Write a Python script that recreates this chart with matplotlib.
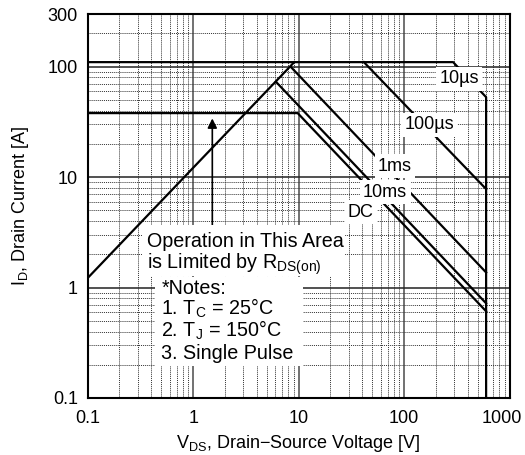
import numpy as np
import matplotlib.pyplot as plt
import matplotlib.transforms as mtransforms
from matplotlib.patches import Rectangle
from matplotlib.ticker import LogLocator, NullFormatter, FixedLocator, FixedFormatter

plt.rcParams['font.family'] = ['Liberation Sans', 'DejaVu Sans']
plt.rcParams['mathtext.fontset'] = 'custom'
plt.rcParams['mathtext.rm'] = 'Liberation Sans'
plt.rcParams['mathtext.it'] = 'Liberation Sans'
plt.rcParams['mathtext.default'] = 'regular'

# safe operating area curves (V, A)
rds_v = [0.1, 9.1]
rds_i = [1.22, 110]
us10_v = [0.1, 292, 600, 600]
us10_i = [110, 110, 53, 0.1]
us100_v = [41.6, 600]
us100_i = [110, 7.8]
ms1_v = [8.4, 600]
ms1_i = [100, 1.37]
ms10_v = [6.1, 600]
ms10_i = [73, 0.72]
dc_v = [0.1, 9.8, 600]
dc_i = [38, 38, 0.61]

curve_labels = ["10µs", "100µs", "1ms", "10ms", "DC"]
label_v = [333, 173, 82, 66, 39]
label_i = [78, 29.7, 12.6, 7.3, 4.8]

x_ticks = [0.1, 1, 10, 100, 1000]
x_ticklabels = ["0.1", "1", "10", "100", "1000"]
y_ticks = [0.1, 1, 10, 100, 300]
y_ticklabels = ["0.1", "1", "10", "100", "300"]

area_lines = ["Operation in This Area", "is Limited by $R_{DS(on)}$"]
note_lines = ["*Notes:", "1. $T_C$ = 25°C", "2. $T_J$ = 150°C", "3. Single Pulse"]

fig = plt.figure(figsize=(5.25, 4.55), dpi=100)
ax = fig.add_axes([0.167, 0.1253, 0.8035, 0.8439])
ax.set_xscale('log')
ax.set_yscale('log')
ax.set_xlim(0.1, 1000)
ax.set_ylim(0.1, 300)

ax.xaxis.set_major_locator(FixedLocator(x_ticks))
ax.xaxis.set_major_formatter(FixedFormatter(x_ticklabels))
ax.yaxis.set_major_locator(FixedLocator(y_ticks))
ax.yaxis.set_major_formatter(FixedFormatter(y_ticklabels))
ax.xaxis.set_minor_locator(LogLocator(base=10, subs=np.arange(2, 10)))
ax.yaxis.set_minor_locator(LogLocator(base=10, subs=np.arange(2, 10)))
ax.xaxis.set_minor_formatter(NullFormatter())
ax.yaxis.set_minor_formatter(NullFormatter())
ax.tick_params(which='both', length=0, labelsize=13)
ax.tick_params(axis='x', pad=9)
ax.tick_params(axis='y', pad=7)

ax.grid(which='minor', color='#333333', linestyle=(0, (1, 1)), linewidth=0.7)
ax.grid(which='major', axis='x', color='#666666', linestyle='-', linewidth=1.3)
ax.grid(which='major', axis='y', color='#222222', linestyle='-', linewidth=1.1)
for s in ax.spines.values():
    s.set_linewidth(1.5)

lw = 1.6
for v, i in [(rds_v, rds_i), (us10_v, us10_i), (us100_v, us100_i),
             (ms1_v, ms1_i), (ms10_v, ms10_i), (dc_v, dc_i)]:
    ax.plot(v, i, color='black', linewidth=lw, zorder=3)

for t, v, i in zip(curve_labels, label_v, label_i):
    ax.text(v, i, t, fontsize=13, ha='center', va='center', zorder=5,
            bbox=dict(facecolor='white', edgecolor='none', pad=2.5))

ax.annotate('', xy=(1.52, 34), xytext=(1.52, 3.4),
            arrowprops=dict(arrowstyle='-|>', color='black', lw=1.2,
                            mutation_scale=14, shrinkA=0, shrinkB=0), zorder=4)

# white panels behind the notes
ax.add_patch(Rectangle((0.129, 0.318), 0.481, 0.133, transform=ax.transAxes,
                       facecolor='white', edgecolor='none', zorder=4.5))
ax.add_patch(Rectangle((0.160, 0.083), 0.350, 0.232, transform=ax.transAxes,
                       facecolor='white', edgecolor='none', zorder=4.5))

for line, y in zip(area_lines, [0.393, 0.336]):
    ax.text(0.140, y, line, transform=ax.transAxes, fontsize=14.2,
            ha='left', va='baseline', zorder=5)
for line, y in zip(note_lines, [0.271, 0.216, 0.159, 0.102]):
    ax.text(0.175, y, line, transform=ax.transAxes, fontsize=14.2,
            ha='left', va='baseline', zorder=5)

ax.set_xlabel("$V_{DS}$, Drain−Source Voltage [V]", fontsize=13, labelpad=4)
ax.set_ylabel("$I_D$, Drain Current [A]", fontsize=13, labelpad=12)

# last x tick label sits a little left so it stays inside the figure
last = ax.get_xticklabels()[-1]
last.set_transform(last.get_transform() +
                   mtransforms.ScaledTranslation(-0.08, 0, fig.dpi_scale_trans))

fig.savefig("out.png", dpi=100)
